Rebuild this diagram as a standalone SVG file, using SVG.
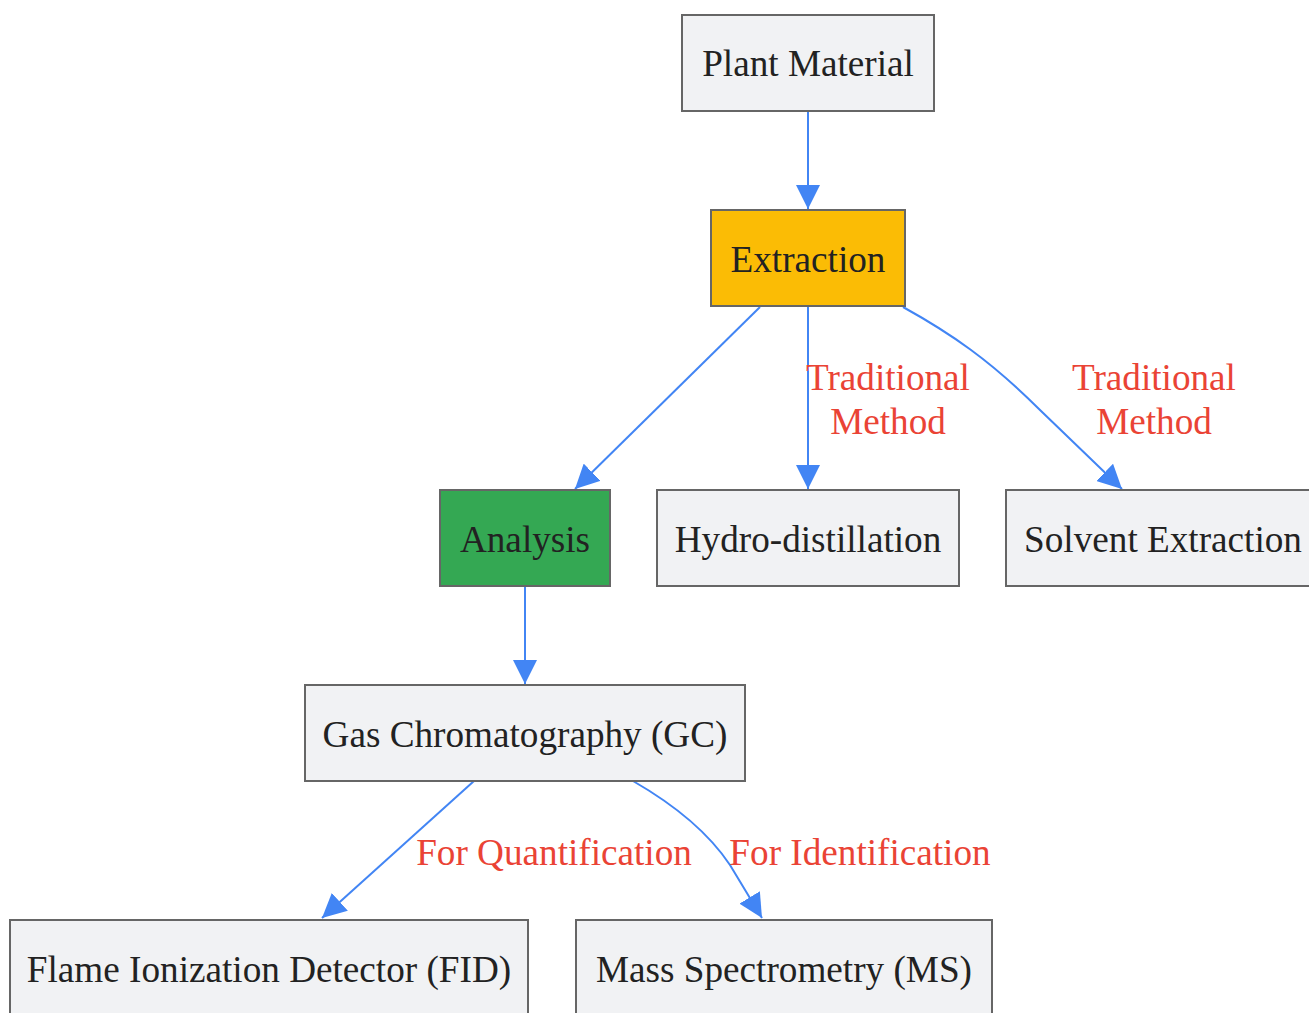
<svg xmlns="http://www.w3.org/2000/svg" width="1309" height="1013" viewBox="0 0 1309 1013">
<style>
.node rect{fill:#f1f2f4;stroke:#666;stroke-width:2}
.node text{font-family:"Liberation Serif",serif;font-size:37.2px;fill:#222;text-anchor:middle}
.edge{fill:none;stroke:#4285f4;stroke-width:2}
.lbl{font-family:"Liberation Serif",serif;font-size:37.2px;fill:#ea4335;text-anchor:middle}
</style>
<defs>
<marker id="ah" markerUnits="userSpaceOnUse" markerWidth="24" markerHeight="24" viewBox="0 0 20 20" refX="20" refY="10" orient="auto">
<path d="M0,0 L20,10 L0,20 z" fill="#4285f4"/>
</marker>
</defs>
<rect width="1309" height="1013" fill="#fff"/>
<g id="connectors">
<path class="edge" d="M808,111 L808,209" marker-end="url(#ah)"/>
<path class="edge" d="M760,307 L575,489" marker-end="url(#ah)"/>
<path class="edge" d="M808,307 L808,489" marker-end="url(#ah)"/>
<path class="edge" d="M903,307 C950,333 990,360 1040,410 L1122,489" marker-end="url(#ah)"/>
<path class="edge" d="M525,587 L525,684" marker-end="url(#ah)"/>
<path class="edge" d="M474,781 L322,918" marker-end="url(#ah)"/>
<path class="edge" d="M633,781 C680,808 710,835 730,865 L762,918" marker-end="url(#ah)"/>
<text class="lbl" x="888" y="390">Traditional</text>
<text class="lbl" x="888" y="434">Method</text>
<text class="lbl" x="1154" y="390">Traditional</text>
<text class="lbl" x="1154" y="434">Method</text>
<text class="lbl" x="554" y="865">For Quantification</text>
<text class="lbl" x="860" y="865">For Identification</text>
</g>
<g id="plant" class="node"><rect x="682" y="15" width="252" height="96"/><text x="808" y="76">Plant Material</text></g>
<g id="extraction" class="node"><rect x="711" y="210" width="194" height="96" style="fill:#fbbc05"/><text x="808" y="272">Extraction</text></g>
<g id="analysis" class="node"><rect x="440" y="490" width="170" height="96" style="fill:#34a853"/><text x="525" y="552">Analysis</text></g>
<g id="hydro" class="node"><rect x="657" y="490" width="302" height="96"/><text x="808" y="552">Hydro-distillation</text></g>
<g id="solvent" class="node"><rect x="1006" y="490" width="314" height="96"/><text x="1163" y="552">Solvent Extraction</text></g>
<g id="gc" class="node"><rect x="305" y="685" width="440" height="96"/><text x="525" y="747">Gas Chromatography (GC)</text></g>
<g id="fid" class="node"><rect x="10" y="920" width="518" height="96"/><text x="269" y="982">Flame Ionization Detector (FID)</text></g>
<g id="ms" class="node"><rect x="576" y="920" width="416" height="96"/><text x="784" y="982">Mass Spectrometry (MS)</text></g>
</svg>
